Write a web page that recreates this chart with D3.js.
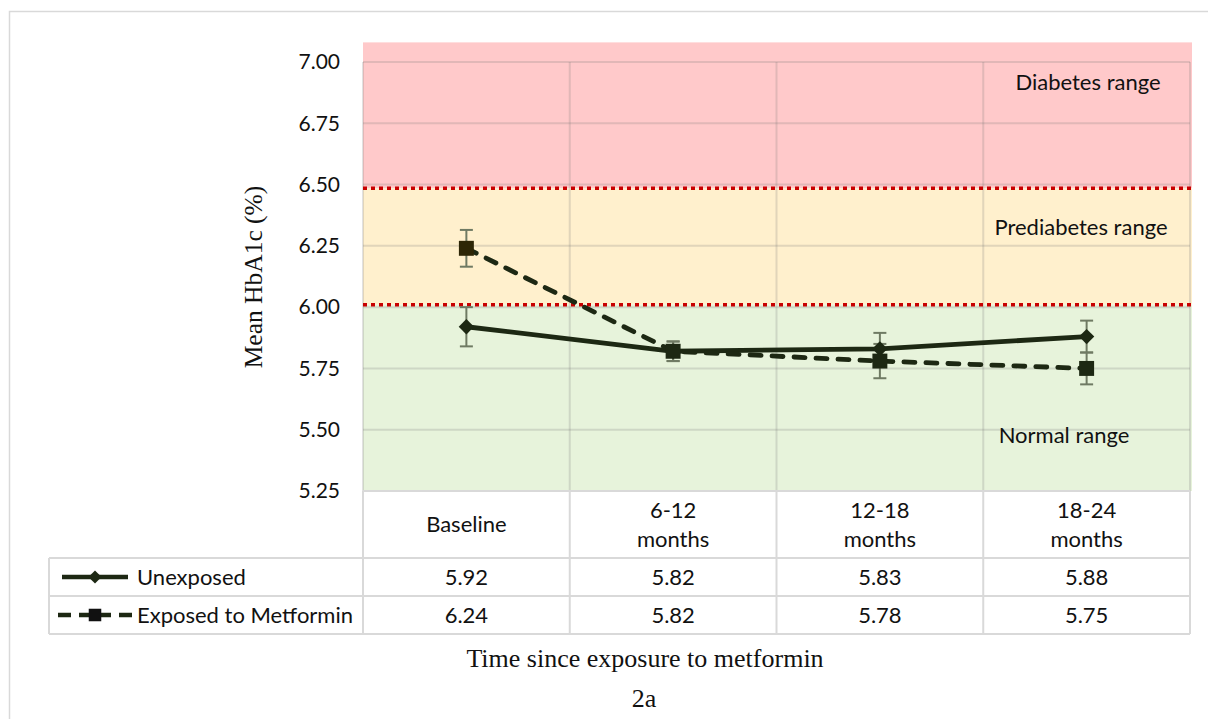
<!DOCTYPE html>
<html>
<head>
<meta charset="utf-8">
<script src="https://cdn.jsdelivr.net/npm/d3@7"></script>
<style>
  html, body { margin: 0; padding: 0; background: #fff; }
  svg { display: block; }
</style>
</head>
<body>
<svg id="chart" width="1208" height="719"></svg>
<script>
// Time points and mean HbA1c per group
const categories = ["Baseline", "6-12 months", "12-18 months", "18-24 months"];
const categoryLines = [["Baseline"], ["6-12", "months"], ["12-18", "months"], ["18-24", "months"]];
const unexposed = [5.92, 5.82, 5.83, 5.88];
const exposed = [6.24, 5.82, 5.78, 5.75];
// Half-widths of the error bars
const unexposedErr = [0.08, 0.04, 0.065, 0.065];
const exposedErr = [0.075, 0.04, 0.07, 0.065];
const yTicks = [5.25, 5.50, 5.75, 6.00, 6.25, 6.50, 6.75, 7.00];
const seriesNames = ["Unexposed", "Exposed to Metformin"];
// Glycaemic ranges (lower, upper)
const ranges = [
  { name: "Diabetes range", lo: 6.485, hi: 7.08, fill: "#ffc9ca" },
  { name: "Prediabetes range", lo: 6.01, hi: 6.485, fill: "#fff0cd" },
  { name: "Normal range", lo: 5.25, hi: 6.01, fill: "#e7f3db" }
];

const svg = d3.select("#chart");
const sans = "Lato, 'Open Sans', sans-serif";
const serif = "'Liberation Serif', 'Times New Roman', serif";
const fs = 22;

const plotL = 363, plotR = 1190, plotT = 62, plotB = 491;
const x = d3.scaleBand().domain(categories).range([plotL, plotR]);
const y = d3.scaleLinear().domain([5.25, 7.00]).range([plotB, plotT]);

// outer frame
svg.append("rect").attr("x", 9.5).attr("y", 11.5).attr("width", 1230).attr("height", 740)
  .attr("fill", "none").attr("stroke", "#d9d9d9").attr("stroke-width", 1.5);

// range bands
svg.selectAll("rect.band").data(ranges).enter().append("rect")
  .attr("class", "band")
  .attr("x", plotL).attr("width", plotR - plotL + 2)
  .attr("y", d => y(d.hi)).attr("height", d => y(d.lo) - y(d.hi))
  .attr("fill", d => d.fill);

// gridlines
const grid = svg.append("g");
grid.selectAll("line.h").data(yTicks).enter().append("line")
  .attr("x1", plotL).attr("x2", plotR)
  .attr("y1", d => y(d)).attr("y2", d => y(d))
  .attr("stroke", "rgba(120,120,120,0.22)").attr("stroke-width", 2);
const bounds = categories.map(c => x(c)).concat([plotR]);
grid.selectAll("line.v").data(bounds).enter().append("line")
  .attr("x1", d => d).attr("x2", d => d)
  .attr("y1", plotT).attr("y2", plotB)
  .attr("stroke", "rgba(120,120,120,0.22)").attr("stroke-width", 2);

// range boundaries
svg.selectAll("line.cut").data(ranges.slice(1)).enter().append("line")
  .attr("x1", plotL).attr("x2", plotR + 2)
  .attr("y1", d => y(d.hi)).attr("y2", d => y(d.hi))
  .attr("stroke", "#c80000").attr("stroke-width", 3.5)
  .attr("stroke-dasharray", "4,4");

// range labels
const labelPos = [{ cx: 1088, v: 6.885 }, { cx: 1081, v: 6.295 }, { cx: 1064, v: 5.445 }];
svg.selectAll("text.range").data(ranges).enter().append("text")
  .attr("x", (d, i) => labelPos[i].cx).attr("y", (d, i) => y(labelPos[i].v))
  .attr("text-anchor", "middle").attr("font-family", sans).attr("font-size", fs)
  .attr("fill", "#111").text(d => d.name);

// y axis labels
const yAxis = d3.axisLeft(y).tickValues(yTicks).tickFormat(d3.format(".2f")).tickSize(0).tickPadding(23);
const ya = svg.append("g").attr("transform", `translate(${plotL},0)`).call(yAxis);
ya.select(".domain").remove();
ya.selectAll("text").attr("font-family", sans).attr("font-size", 21).attr("fill", "#111");

// y axis title
svg.append("text").attr("transform", "translate(262,277) rotate(-90)")
  .attr("text-anchor", "middle").attr("font-family", serif).attr("font-size", 25.5)
  .attr("fill", "#111").text("Mean HbA1c (%)");

// data table
const rowY = [491, 558, 596, 634];
const tableLeft = 49;
const tbl = svg.append("g").attr("stroke", "#d9d9d9").attr("stroke-width", 2);
tbl.append("line").attr("x1", tableLeft).attr("x2", plotR).attr("y1", rowY[1]).attr("y2", rowY[1]);
tbl.append("line").attr("x1", tableLeft).attr("x2", plotR).attr("y1", rowY[2]).attr("y2", rowY[2]);
tbl.append("line").attr("x1", tableLeft).attr("x2", plotR).attr("y1", rowY[3]).attr("y2", rowY[3]);
tbl.append("line").attr("x1", plotL).attr("x2", plotR).attr("y1", rowY[0]).attr("y2", rowY[0]);
tbl.append("line").attr("x1", tableLeft).attr("x2", tableLeft).attr("y1", rowY[1]).attr("y2", rowY[3]);
tbl.selectAll("line.cv").data(bounds).enter().append("line")
  .attr("x1", d => d).attr("x2", d => d).attr("y1", rowY[0]).attr("y2", rowY[3]);

// category headers
const head = svg.append("g");
categories.forEach((c, i) => {
  const lines = categoryLines[i];
  const cx = x(c) + x.bandwidth() / 2;
  const t = head.append("text").attr("text-anchor", "middle")
    .attr("font-family", sans).attr("font-size", fs).attr("fill", "#111");
  if (lines.length === 1) {
    t.append("tspan").attr("x", cx).attr("y", 532).text(lines[0]);
  } else {
    t.append("tspan").attr("x", cx).attr("y", 518).text(lines[0]);
    t.append("tspan").attr("x", cx).attr("y", 547).text(lines[1]);
  }
});

// value rows
[unexposed, exposed].forEach((vals, r) => {
  svg.selectAll(null).data(vals).enter().append("text")
    .attr("x", (d, i) => x(categories[i]) + x.bandwidth() / 2)
    .attr("y", (rowY[r + 1] + rowY[r + 2]) / 2 + 7.5)
    .attr("text-anchor", "middle").attr("font-family", sans).attr("font-size", fs)
    .attr("fill", "#111").text(d => d3.format(".2f")(d));
});

const lineColor = "#1d2813";
const markerColor = ["#1d2813", "#2d2606"];
const diamond = d3.symbol().type(d3.symbolDiamond2).size(150);
const square = d3.symbol().type(d3.symbolSquare2).size(285);
const legDiamond = d3.symbol().type(d3.symbolDiamond2).size(110);
const legSquare = d3.symbol().type(d3.symbolSquare2).size(200);

// legend cells
const legY = [(rowY[1] + rowY[2]) / 2, (rowY[2] + rowY[3]) / 2];
const leg = svg.append("g");
leg.append("line").attr("x1", 62).attr("x2", 128).attr("y1", legY[0]).attr("y2", legY[0])
  .attr("stroke", lineColor).attr("stroke-width", 4.5);
leg.append("path").attr("d", legDiamond).attr("transform", `translate(95,${legY[0]})`).attr("fill", lineColor);
leg.append("line").attr("x1", 58).attr("x2", 132).attr("y1", legY[1]).attr("y2", legY[1])
  .attr("stroke", lineColor).attr("stroke-width", 4.5).attr("stroke-dasharray", "13,8,32,8,13");
leg.append("path").attr("d", legSquare).attr("transform", `translate(95,${legY[1]})`).attr("fill", "#111");
seriesNames.forEach((s, i) => {
  leg.append("text").attr("x", 137).attr("y", legY[i] + 7.5)
    .attr("font-family", sans).attr("font-size", fs).attr("fill", "#111").text(s);
});

// series lines
const cxOf = i => x(categories[i]) + x.bandwidth() / 2;
const lineGen = d3.line().x((d, i) => cxOf(i)).y(d => y(d));
svg.append("path").datum(unexposed).attr("d", lineGen).attr("fill", "none")
  .attr("stroke", lineColor).attr("stroke-width", 4.8).attr("stroke-linejoin", "round");
svg.append("path").datum(exposed).attr("d", lineGen).attr("fill", "none")
  .attr("stroke", lineColor).attr("stroke-width", 4.8)
  .attr("stroke-dasharray", "11,11").attr("stroke-linecap", "round");

// error bars
function errorBars(vals, errs) {
  const g = svg.append("g").attr("stroke", "#6f7a63").attr("stroke-width", 2);
  vals.forEach((v, i) => {
    const cx = cxOf(i);
    g.append("line").attr("x1", cx).attr("x2", cx).attr("y1", y(v + errs[i])).attr("y2", y(v - errs[i]));
    [v + errs[i], v - errs[i]].forEach(e => {
      g.append("line").attr("x1", cx - 6.5).attr("x2", cx + 6.5).attr("y1", y(e)).attr("y2", y(e));
    });
  });
}
errorBars(unexposed, unexposedErr);
errorBars(exposed, exposedErr);

// markers
svg.selectAll("path.dia").data(unexposed).enter().append("path")
  .attr("d", diamond).attr("transform", (d, i) => `translate(${cxOf(i)},${y(d)})`)
  .attr("fill", markerColor[0]);
svg.selectAll("path.sq").data(exposed).enter().append("path")
  .attr("d", square).attr("transform", (d, i) => `translate(${cxOf(i)},${y(d)})`)
  .attr("fill", (d, i) => i === 0 ? markerColor[1] : markerColor[0]);

// x title and panel tag
svg.append("text").attr("x", 645).attr("y", 667).attr("text-anchor", "middle")
  .attr("font-family", serif).attr("font-size", 26).attr("fill", "#111")
  .text("Time since exposure to metformin");
svg.append("text").attr("x", 644).attr("y", 707).attr("text-anchor", "middle")
  .attr("font-family", serif).attr("font-size", 26).attr("fill", "#111").text("2a");
</script>
</body>
</html>
